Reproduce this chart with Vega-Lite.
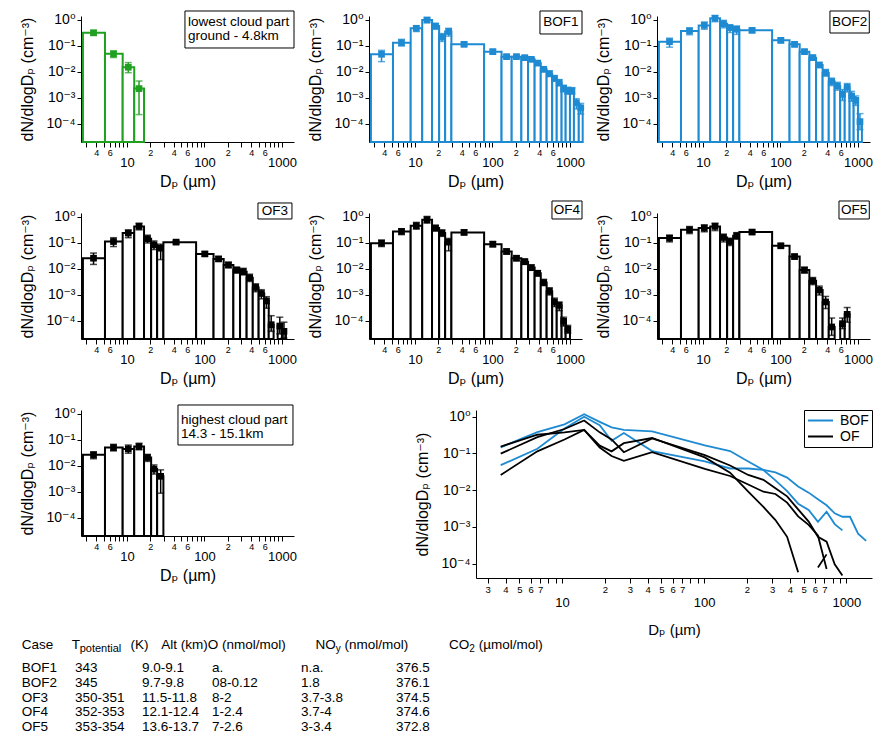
{
  "$schema": "https://vega.github.io/schema/vega-lite/v6.json",
  "background": "white",
  "padding": {"left": 19, "top": 10, "right": 0, "bottom": 2},
  "config": {
    "font": "Liberation Sans, DejaVu Sans",
    "view": {"stroke": null},
    "axis": {"grid": false, "domainColor": "black", "tickColor": "black", "labelColor": "black", "titleColor": "black", "titleFontWeight": "normal", "titleFontSize": 16, "labelOverlap": false, "labelFlush": false, "domainWidth": 1, "tickWidth": 1},
    "axisX": {"tickSize": 5, "labelPadding": 1, "labelBaseline": "top"},
    "axisY": {"tickSize": 4, "labelPadding": 2, "labelFontSize": 14, "titlePadding": 11},
    "text": {"color": "black"}
  },
  "datasets": {
    "edges": [
      {"bin": 1, "x0": 2.7, "x1": 5.2, "center": 3.7},
      {"bin": 2, "x0": 5.2, "x1": 8.8, "center": 6.7},
      {"bin": 3, "x0": 8.8, "x1": 12.4, "center": 10.4},
      {"bin": 4, "x0": 12.4, "x1": 16.6, "center": 14.3},
      {"bin": 5, "x0": 16.6, "x1": 20.5, "center": 18.4},
      {"bin": 6, "x0": 20.5, "x1": 24.5, "center": 22.3},
      {"bin": 7, "x0": 24.5, "x1": 29.5, "center": 27.2},
      {"bin": 8, "x0": 29.5, "x1": 78, "center": 43},
      {"bin": 9, "x0": 78, "x1": 131, "center": 101},
      {"bin": 10, "x0": 131, "x1": 177, "center": 152},
      {"bin": 11, "x0": 177, "x1": 236, "center": 204},
      {"bin": 12, "x0": 236, "x1": 288, "center": 261},
      {"bin": 13, "x0": 288, "x1": 350, "center": 317},
      {"bin": 14, "x0": 350, "x1": 420, "center": 383},
      {"bin": 15, "x0": 420, "x1": 500, "center": 458},
      {"bin": 16, "x0": 500, "x1": 590, "center": 543},
      {"bin": 17, "x0": 590, "x1": 675, "center": 631},
      {"bin": 18, "x0": 675, "x1": 780, "center": 726},
      {"bin": 19, "x0": 780, "x1": 880, "center": 828},
      {"bin": 20, "x0": 880, "x1": 1000, "center": 938},
      {"bin": 21, "x0": 1000, "x1": 1125, "center": 1061},
      {"bin": 22, "x0": 1125, "x1": 1300, "center": 1209},
      {"bin": 23, "x0": 1300, "x1": 1460, "center": 1378}
    ],
    "cases": [
      {"case": "BOF1", "type": "BOF"},
      {"case": "BOF2", "type": "BOF"},
      {"case": "OF3", "type": "OF"},
      {"case": "OF4", "type": "OF"},
      {"case": "OF5", "type": "OF"}
    ],
    "bins": [
      {"case": "lowest", "bin": 1, "value": 0.32, "lo": 0.265, "hi": 0.4},
      {"case": "lowest", "bin": 2, "value": 0.05, "lo": 0.036, "hi": 0.064},
      {"case": "lowest", "bin": 3, "value": 0.0152, "lo": 0.0094, "hi": 0.023},
      {"case": "lowest", "bin": 4, "value": 0.0023, "lo": 0.00023, "hi": 0.0045},

      {"case": "highest", "bin": 1, "value": 0.0268, "lo": 0.019, "hi": 0.035},
      {"case": "highest", "bin": 2, "value": 0.051, "lo": 0.038, "hi": 0.068},
      {"case": "highest", "bin": 3, "value": 0.0455, "lo": 0.031, "hi": 0.064},
      {"case": "highest", "bin": 4, "value": 0.056, "lo": 0.042, "hi": 0.075},
      {"case": "highest", "bin": 5, "value": 0.0212, "lo": 0.015, "hi": 0.028},
      {"case": "highest", "bin": 6, "value": 0.0076, "lo": 0.0049, "hi": 0.011},
      {"case": "highest", "bin": 7, "value": 0.004, "lo": 0.0009, "hi": 0.0071},

      {"case": "BOF1", "bin": 1, "value": 0.048, "lo": 0.025, "hi": 0.068},
      {"case": "BOF1", "bin": 2, "value": 0.134, "lo": 0.1, "hi": 0.18},
      {"case": "BOF1", "bin": 3, "value": 0.48, "lo": 0.36, "hi": 0.59},
      {"case": "BOF1", "bin": 4, "value": 1.0, "lo": 0.79, "hi": 1.23},
      {"case": "BOF1", "bin": 5, "value": 0.59, "lo": 0.44, "hi": 0.72},
      {"case": "BOF1", "bin": 6, "value": 0.22, "lo": 0.15, "hi": 0.3},
      {"case": "BOF1", "bin": 7, "value": 0.36, "lo": 0.24, "hi": 0.48},
      {"case": "BOF1", "bin": 8, "value": 0.116, "lo": 0.097, "hi": 0.14},
      {"case": "BOF1", "bin": 9, "value": 0.0605, "lo": 0.05, "hi": 0.074},
      {"case": "BOF1", "bin": 10, "value": 0.039, "lo": 0.034, "hi": 0.045},
      {"case": "BOF1", "bin": 11, "value": 0.039, "lo": 0.034, "hi": 0.045},
      {"case": "BOF1", "bin": 12, "value": 0.0356, "lo": 0.031, "hi": 0.041},
      {"case": "BOF1", "bin": 13, "value": 0.0307, "lo": 0.026, "hi": 0.036},
      {"case": "BOF1", "bin": 14, "value": 0.022, "lo": 0.018, "hi": 0.027},
      {"case": "BOF1", "bin": 15, "value": 0.0127, "lo": 0.0103, "hi": 0.0157},
      {"case": "BOF1", "bin": 16, "value": 0.0086, "lo": 0.0067, "hi": 0.011},
      {"case": "BOF1", "bin": 17, "value": 0.0057, "lo": 0.0044, "hi": 0.0073},
      {"case": "BOF1", "bin": 18, "value": 0.0039, "lo": 0.0029, "hi": 0.0051},
      {"case": "BOF1", "bin": 19, "value": 0.00235, "lo": 0.0017, "hi": 0.0031},
      {"case": "BOF1", "bin": 20, "value": 0.0019, "lo": 0.0014, "hi": 0.0026},
      {"case": "BOF1", "bin": 21, "value": 0.0019, "lo": 0.0014, "hi": 0.0025},
      {"case": "BOF1", "bin": 22, "value": 0.00066, "lo": 0.00038, "hi": 0.00094},
      {"case": "BOF1", "bin": 23, "value": 0.00042, "lo": 0.00024, "hi": 0.00062},

      {"case": "BOF2", "bin": 1, "value": 0.147, "lo": 0.09, "hi": 0.2},
      {"case": "BOF2", "bin": 2, "value": 0.38, "lo": 0.27, "hi": 0.5},
      {"case": "BOF2", "bin": 3, "value": 0.62, "lo": 0.44, "hi": 0.84},
      {"case": "BOF2", "bin": 4, "value": 1.16, "lo": 0.86, "hi": 1.5},
      {"case": "BOF2", "bin": 5, "value": 0.72, "lo": 0.5, "hi": 0.97},
      {"case": "BOF2", "bin": 6, "value": 0.51, "lo": 0.33, "hi": 0.64},
      {"case": "BOF2", "bin": 7, "value": 0.44, "lo": 0.28, "hi": 0.59},
      {"case": "BOF2", "bin": 8, "value": 0.4, "lo": 0.33, "hi": 0.48},
      {"case": "BOF2", "bin": 9, "value": 0.165, "lo": 0.134, "hi": 0.2},
      {"case": "BOF2", "bin": 10, "value": 0.116, "lo": 0.094, "hi": 0.14},
      {"case": "BOF2", "bin": 11, "value": 0.0605, "lo": 0.049, "hi": 0.074},
      {"case": "BOF2", "bin": 12, "value": 0.0356, "lo": 0.029, "hi": 0.044},
      {"case": "BOF2", "bin": 13, "value": 0.0186, "lo": 0.015, "hi": 0.023},
      {"case": "BOF2", "bin": 14, "value": 0.0094, "lo": 0.0069, "hi": 0.0125},
      {"case": "BOF2", "bin": 15, "value": 0.0043, "lo": 0.003, "hi": 0.0058},
      {"case": "BOF2", "bin": 16, "value": 0.0029, "lo": 0.002, "hi": 0.004},
      {"case": "BOF2", "bin": 17, "value": 0.00138, "lo": 0.0008, "hi": 0.0021},
      {"case": "BOF2", "bin": 18, "value": 0.0026, "lo": 0.0017, "hi": 0.0036},
      {"case": "BOF2", "bin": 19, "value": 0.0012, "lo": 0.00075, "hi": 0.0018},
      {"case": "BOF2", "bin": 20, "value": 0.00081, "lo": 0.00052, "hi": 0.0012},
      {"case": "BOF2", "bin": 21, "value": 0.000123, "lo": 0.00006, "hi": 0.00025},

      {"case": "OF3", "bin": 1, "value": 0.026, "lo": 0.015, "hi": 0.041},
      {"case": "OF3", "bin": 2, "value": 0.114, "lo": 0.073, "hi": 0.16},
      {"case": "OF3", "bin": 3, "value": 0.24, "lo": 0.16, "hi": 0.32},
      {"case": "OF3", "bin": 4, "value": 0.435, "lo": 0.32, "hi": 0.58},
      {"case": "OF3", "bin": 5, "value": 0.145, "lo": 0.1, "hi": 0.2},
      {"case": "OF3", "bin": 6, "value": 0.085, "lo": 0.056, "hi": 0.12},
      {"case": "OF3", "bin": 7, "value": 0.063, "lo": 0.023, "hi": 0.09},
      {"case": "OF3", "bin": 8, "value": 0.108, "lo": 0.092, "hi": 0.125},
      {"case": "OF3", "bin": 9, "value": 0.038, "lo": 0.031, "hi": 0.046},
      {"case": "OF3", "bin": 10, "value": 0.0244, "lo": 0.02, "hi": 0.03},
      {"case": "OF3", "bin": 11, "value": 0.0143, "lo": 0.0112, "hi": 0.0181},
      {"case": "OF3", "bin": 12, "value": 0.0091, "lo": 0.007, "hi": 0.0117},
      {"case": "OF3", "bin": 13, "value": 0.0079, "lo": 0.0059, "hi": 0.0106},
      {"case": "OF3", "bin": 14, "value": 0.0046, "lo": 0.0033, "hi": 0.0063},
      {"case": "OF3", "bin": 15, "value": 0.00195, "lo": 0.00133, "hi": 0.0027},
      {"case": "OF3", "bin": 16, "value": 0.00114, "lo": 0.00071, "hi": 0.0016},
      {"case": "OF3", "bin": 17, "value": 0.00059, "lo": 0.00031, "hi": 0.00086},
      {"case": "OF3", "bin": 18, "value": 0.000072, "lo": 0.00004, "hi": 0.00016},
      {"case": "OF3", "bin": 20, "value": 0.000064, "lo": 0.000032, "hi": 0.00014},
      {"case": "OF3", "bin": 21, "value": 0.00004, "lo": 0.000022, "hi": 0.00009},

      {"case": "OF4", "bin": 1, "value": 0.0986, "lo": 0.073, "hi": 0.13},
      {"case": "OF4", "bin": 2, "value": 0.279, "lo": 0.21, "hi": 0.35},
      {"case": "OF4", "bin": 3, "value": 0.462, "lo": 0.34, "hi": 0.62},
      {"case": "OF4", "bin": 4, "value": 0.79, "lo": 0.58, "hi": 1.05},
      {"case": "OF4", "bin": 5, "value": 0.375, "lo": 0.29, "hi": 0.48},
      {"case": "OF4", "bin": 6, "value": 0.24, "lo": 0.18, "hi": 0.32},
      {"case": "OF4", "bin": 7, "value": 0.108, "lo": 0.05, "hi": 0.15},
      {"case": "OF4", "bin": 8, "value": 0.255, "lo": 0.21, "hi": 0.32},
      {"case": "OF4", "bin": 9, "value": 0.09, "lo": 0.072, "hi": 0.113},
      {"case": "OF4", "bin": 10, "value": 0.047, "lo": 0.038, "hi": 0.059},
      {"case": "OF4", "bin": 11, "value": 0.026, "lo": 0.021, "hi": 0.032},
      {"case": "OF4", "bin": 12, "value": 0.0192, "lo": 0.015, "hi": 0.024},
      {"case": "OF4", "bin": 13, "value": 0.0113, "lo": 0.0089, "hi": 0.0143},
      {"case": "OF4", "bin": 14, "value": 0.0068, "lo": 0.0054, "hi": 0.0087},
      {"case": "OF4", "bin": 15, "value": 0.003, "lo": 0.0023, "hi": 0.004},
      {"case": "OF4", "bin": 16, "value": 0.0014, "lo": 0.001, "hi": 0.0019},
      {"case": "OF4", "bin": 17, "value": 0.00054, "lo": 0.00036, "hi": 0.00076},
      {"case": "OF4", "bin": 18, "value": 0.0004, "lo": 0.00025, "hi": 0.00054},
      {"case": "OF4", "bin": 19, "value": 0.000097, "lo": 0.000064, "hi": 0.00014},
      {"case": "OF4", "bin": 20, "value": 0.000048, "lo": 0.000034, "hi": 0.000068},

      {"case": "OF5", "bin": 1, "value": 0.154, "lo": 0.11, "hi": 0.2},
      {"case": "OF5", "bin": 2, "value": 0.323, "lo": 0.23, "hi": 0.43},
      {"case": "OF5", "bin": 3, "value": 0.375, "lo": 0.27, "hi": 0.5},
      {"case": "OF5", "bin": 4, "value": 0.435, "lo": 0.3, "hi": 0.58},
      {"case": "OF5", "bin": 5, "value": 0.163, "lo": 0.11, "hi": 0.22},
      {"case": "OF5", "bin": 6, "value": 0.114, "lo": 0.08, "hi": 0.153},
      {"case": "OF5", "bin": 7, "value": 0.19, "lo": 0.14, "hi": 0.25},
      {"case": "OF5", "bin": 8, "value": 0.263, "lo": 0.22, "hi": 0.32},
      {"case": "OF5", "bin": 9, "value": 0.078, "lo": 0.065, "hi": 0.095},
      {"case": "OF5", "bin": 10, "value": 0.03, "lo": 0.025, "hi": 0.037},
      {"case": "OF5", "bin": 11, "value": 0.0091, "lo": 0.007, "hi": 0.0117},
      {"case": "OF5", "bin": 12, "value": 0.0035, "lo": 0.0025, "hi": 0.0047},
      {"case": "OF5", "bin": 13, "value": 0.00154, "lo": 0.001, "hi": 0.0022},
      {"case": "OF5", "bin": 14, "value": 0.00054, "lo": 0.0003, "hi": 0.00088},
      {"case": "OF5", "bin": 15, "value": 0.000059, "lo": 0.000028, "hi": 0.00013},
      {"case": "OF5", "bin": 16, "value": null, "lo": null, "hi": null},
      {"case": "OF5", "bin": 17, "value": 0.000079, "lo": 0.000051, "hi": 0.00013},
      {"case": "OF5", "bin": 18, "value": 0.00018, "lo": 0.00009, "hi": 0.00033}
    ],
    "table": [
      {"Case": "BOF1", "T": "343", "Alt": "9.0-9.1", "O": "a.", "NOy": "n.a.", "CO2": "376.5"},
      {"Case": "BOF2", "T": "345", "Alt": "9.7-9.8", "O": "08-0.12", "NOy": "1.8", "CO2": "376.1"},
      {"Case": "OF3", "T": "350-351", "Alt": "11.5-11.8", "O": "8-2", "NOy": "3.7-3.8", "CO2": "374.5"},
      {"Case": "OF4", "T": "352-353", "Alt": "12.1-12.4", "O": "1-2.4", "NOy": "3.7-4", "CO2": "374.6"},
      {"Case": "OF5", "T": "353-354", "Alt": "13.6-13.7", "O": "7-2.6", "NOy": "3-3.4", "CO2": "372.8"}
    ]
  },
  "spacing": 17,
  "vconcat": [
    {
      "spacing": 10,
      "vconcat": [
        {
          "bounds": "flush",
          "spacing": 75,
          "hconcat": [
            {
              "width": 213, "height": 126,
              "layer": [
                {
                  "data": {"name": "bins"},
                  "transform": [
                    {"filter": "datum.case == 'lowest' && isValid(datum.value)"},
                    {"lookup": "bin", "from": {"data": {"name": "edges"}, "key": "bin", "fields": ["x0", "x1", "center"]}}
                  ],
                  "layer": [
                    {"mark": {"type": "rect", "fill": "white", "stroke": "#20a020", "strokeWidth": 2},
                     "encoding": {
                       "x": {"field": "x0", "type": "quantitative", "scale": {"type": "log", "domain": [2.55, 1430], "nice": false},
                             "axis": {"values": [3,4,5,6,7,8,9,10,20,30,40,50,60,70,80,90,100,200,300,400,500,600,700,800,900,1000],
                                      "labelExpr": "indexof([10,100,1000], datum.value) >= 0 ? ['', format(datum.value, 'd')] : indexof([4,6,20,40,60,200,400,600], datum.value) >= 0 ? slice(format(datum.value, 'd'), 0, 1) : ''",
                                      "labelFontSize": {"condition": {"test": "indexof([10,100,1000], datum.value) >= 0", "value": 13}, "value": 9},
                                      "labelLineHeight": 8.5, "title": "Dₚ (µm)", "titlePadding": 4}},
                       "x2": {"field": "x1"},
                       "y": {"field": "value", "type": "quantitative", "scale": {"type": "log", "domain": [2.03e-5, 1.425], "nice": false},
                             "axis": {"values": [1, 0.1, 0.01, 0.001, 0.0001],
                                      "labelExpr": "datum.value > 0.5 ? '10⁰' : datum.value > 0.05 ? '10⁻¹' : datum.value > 0.005 ? '10⁻²' : datum.value > 0.0005 ? '10⁻³' : '10⁻⁴'",
                                      "title": "dN/dlogDₚ (cm⁻³)"}},
                       "y2": {"datum": 2.03e-5}
                     }},
                    {"mark": {"type": "errorbar", "ticks": {"size": 7}, "color": "#20a020", "thickness": 1.5},
                     "encoding": {
                       "x": {"field": "center", "type": "quantitative", "title": "Dₚ (µm)"},
                       "y": {"field": "lo", "type": "quantitative", "title": "dN/dlogDₚ (cm⁻³)"},
                       "y2": {"field": "hi"}
                     }},
                    {"mark": {"type": "point", "shape": "square", "filled": true, "size": 45, "color": "#20a020", "opacity": 1},
                     "encoding": {
                       "x": {"field": "center", "type": "quantitative", "title": "Dₚ (µm)"},
                       "y": {"field": "value", "type": "quantitative", "title": "dN/dlogDₚ (cm⁻³)"}
                     }}
                  ]
                },
                {
                  "data": {"values": [{}]},
                  "layer": [
                    {"mark": {"type": "rect", "fill": "white", "stroke": "black", "strokeWidth": 1},
                     "encoding": {"x": {"datum": 56, "type": "quantitative", "title": "Dₚ (µm)"}, "x2": {"datum": 1430},
                                  "y": {"datum": 2.22, "type": "quantitative", "title": "dN/dlogDₚ (cm⁻³)"}, "y2": {"datum": 0.0838}}},
                    {"mark": {"type": "text", "text": ["lowest cloud part", "ground - 4.8km"], "align": "left", "baseline": "top", "fontSize": 13.5, "lineHeight": 13.5},
                     "encoding": {"x": {"datum": 61.2, "type": "quantitative", "title": "Dₚ (µm)"}, "y": {"datum": 1.49, "type": "quantitative", "title": "dN/dlogDₚ (cm⁻³)"}}}
                  ]
                }
              ]
            },
            {
              "width": 213, "height": 126,
              "layer": [
                {
                  "data": {"name": "bins"},
                  "transform": [
                    {"filter": "datum.case == 'BOF1' && isValid(datum.value)"},
                    {"lookup": "bin", "from": {"data": {"name": "edges"}, "key": "bin", "fields": ["x0", "x1", "center"]}}
                  ],
                  "layer": [
                    {"mark": {"type": "rect", "fill": "white", "stroke": "#1e8ad2", "strokeWidth": 2},
                     "encoding": {
                       "x": {"field": "x0", "type": "quantitative", "scale": {"type": "log", "domain": [2.55, 1430], "nice": false},
                             "axis": {"values": [3,4,5,6,7,8,9,10,20,30,40,50,60,70,80,90,100,200,300,400,500,600,700,800,900,1000],
                                      "labelExpr": "indexof([10,100,1000], datum.value) >= 0 ? ['', format(datum.value, 'd')] : indexof([4,6,20,40,60,200,400,600], datum.value) >= 0 ? slice(format(datum.value, 'd'), 0, 1) : ''",
                                      "labelFontSize": {"condition": {"test": "indexof([10,100,1000], datum.value) >= 0", "value": 13}, "value": 9},
                                      "labelLineHeight": 8.5, "title": "Dₚ (µm)", "titlePadding": 4}},
                       "x2": {"field": "x1"},
                       "y": {"field": "value", "type": "quantitative", "scale": {"type": "log", "domain": [2.03e-5, 1.425], "nice": false},
                             "axis": {"values": [1, 0.1, 0.01, 0.001, 0.0001],
                                      "labelExpr": "datum.value > 0.5 ? '10⁰' : datum.value > 0.05 ? '10⁻¹' : datum.value > 0.005 ? '10⁻²' : datum.value > 0.0005 ? '10⁻³' : '10⁻⁴'",
                                      "title": "dN/dlogDₚ (cm⁻³)"}},
                       "y2": {"datum": 2.03e-5}
                     }},
                    {"mark": {"type": "errorbar", "ticks": {"size": 7}, "color": "#1e8ad2", "thickness": 1.5},
                     "encoding": {
                       "x": {"field": "center", "type": "quantitative", "title": "Dₚ (µm)"},
                       "y": {"field": "lo", "type": "quantitative", "title": "dN/dlogDₚ (cm⁻³)"},
                       "y2": {"field": "hi"}
                     }},
                    {"mark": {"type": "point", "shape": "square", "filled": true, "size": 45, "color": "#1e8ad2", "opacity": 1},
                     "encoding": {
                       "x": {"field": "center", "type": "quantitative", "title": "Dₚ (µm)"},
                       "y": {"field": "value", "type": "quantitative", "title": "dN/dlogDₚ (cm⁻³)"}
                     }}
                  ]
                },
                {
                  "data": {"values": [{}]},
                  "layer": [
                    {"mark": {"type": "rect", "fill": "white", "stroke": "black", "strokeWidth": 1},
                     "encoding": {"x": {"datum": 410, "type": "quantitative", "title": "Dₚ (µm)"}, "x2": {"datum": 1430},
                                  "y": {"datum": 2.22, "type": "quantitative", "title": "dN/dlogDₚ (cm⁻³)"}, "y2": {"datum": 0.29}}},
                    {"mark": {"type": "text", "text": "BOF1", "align": "center", "baseline": "middle", "fontSize": 13.5},
                     "encoding": {"x": {"datum": 766, "type": "quantitative", "title": "Dₚ (µm)"}, "y": {"datum": 0.802, "type": "quantitative", "title": "dN/dlogDₚ (cm⁻³)"}}}
                  ]
                }
              ]
            },
            {
              "width": 213, "height": 126,
              "layer": [
                {
                  "data": {"name": "bins"},
                  "transform": [
                    {"filter": "datum.case == 'BOF2' && isValid(datum.value)"},
                    {"lookup": "bin", "from": {"data": {"name": "edges"}, "key": "bin", "fields": ["x0", "x1", "center"]}}
                  ],
                  "layer": [
                    {"mark": {"type": "rect", "fill": "white", "stroke": "#1e8ad2", "strokeWidth": 2},
                     "encoding": {
                       "x": {"field": "x0", "type": "quantitative", "scale": {"type": "log", "domain": [2.55, 1430], "nice": false},
                             "axis": {"values": [3,4,5,6,7,8,9,10,20,30,40,50,60,70,80,90,100,200,300,400,500,600,700,800,900,1000],
                                      "labelExpr": "indexof([10,100,1000], datum.value) >= 0 ? ['', format(datum.value, 'd')] : indexof([4,6,20,40,60,200,400,600], datum.value) >= 0 ? slice(format(datum.value, 'd'), 0, 1) : ''",
                                      "labelFontSize": {"condition": {"test": "indexof([10,100,1000], datum.value) >= 0", "value": 13}, "value": 9},
                                      "labelLineHeight": 8.5, "title": "Dₚ (µm)", "titlePadding": 4}},
                       "x2": {"field": "x1"},
                       "y": {"field": "value", "type": "quantitative", "scale": {"type": "log", "domain": [2.03e-5, 1.425], "nice": false},
                             "axis": {"values": [1, 0.1, 0.01, 0.001, 0.0001],
                                      "labelExpr": "datum.value > 0.5 ? '10⁰' : datum.value > 0.05 ? '10⁻¹' : datum.value > 0.005 ? '10⁻²' : datum.value > 0.0005 ? '10⁻³' : '10⁻⁴'",
                                      "title": "dN/dlogDₚ (cm⁻³)"}},
                       "y2": {"datum": 2.03e-5}
                     }},
                    {"mark": {"type": "errorbar", "ticks": {"size": 7}, "color": "#1e8ad2", "thickness": 1.5},
                     "encoding": {
                       "x": {"field": "center", "type": "quantitative", "title": "Dₚ (µm)"},
                       "y": {"field": "lo", "type": "quantitative", "title": "dN/dlogDₚ (cm⁻³)"},
                       "y2": {"field": "hi"}
                     }},
                    {"mark": {"type": "point", "shape": "square", "filled": true, "size": 45, "color": "#1e8ad2", "opacity": 1},
                     "encoding": {
                       "x": {"field": "center", "type": "quantitative", "title": "Dₚ (µm)"},
                       "y": {"field": "value", "type": "quantitative", "title": "dN/dlogDₚ (cm⁻³)"}
                     }}
                  ]
                },
                {
                  "data": {"values": [{}]},
                  "layer": [
                    {"mark": {"type": "rect", "fill": "white", "stroke": "black", "strokeWidth": 1},
                     "encoding": {"x": {"datum": 435, "type": "quantitative", "title": "Dₚ (µm)"}, "x2": {"datum": 1400},
                                  "y": {"datum": 2.22, "type": "quantitative", "title": "dN/dlogDₚ (cm⁻³)"}, "y2": {"datum": 0.316}}},
                    {"mark": {"type": "text", "text": "BOF2", "align": "center", "baseline": "middle", "fontSize": 13.5},
                     "encoding": {"x": {"datum": 780, "type": "quantitative", "title": "Dₚ (µm)"}, "y": {"datum": 0.838, "type": "quantitative", "title": "dN/dlogDₚ (cm⁻³)"}}}
                  ]
                }
              ]
            }
          ]
        },
        {
          "bounds": "flush",
          "spacing": 75,
          "hconcat": [
            {
              "width": 213, "height": 126,
              "layer": [
                {
                  "data": {"name": "bins"},
                  "transform": [
                    {"filter": "datum.case == 'OF3' && isValid(datum.value)"},
                    {"lookup": "bin", "from": {"data": {"name": "edges"}, "key": "bin", "fields": ["x0", "x1", "center"]}}
                  ],
                  "layer": [
                    {"mark": {"type": "rect", "fill": "white", "stroke": "black", "strokeWidth": 2},
                     "encoding": {
                       "x": {"field": "x0", "type": "quantitative", "scale": {"type": "log", "domain": [2.55, 1430], "nice": false},
                             "axis": {"values": [3,4,5,6,7,8,9,10,20,30,40,50,60,70,80,90,100,200,300,400,500,600,700,800,900,1000],
                                      "labelExpr": "indexof([10,100,1000], datum.value) >= 0 ? ['', format(datum.value, 'd')] : indexof([4,6,20,40,60,200,400,600], datum.value) >= 0 ? slice(format(datum.value, 'd'), 0, 1) : ''",
                                      "labelFontSize": {"condition": {"test": "indexof([10,100,1000], datum.value) >= 0", "value": 13}, "value": 9},
                                      "labelLineHeight": 8.5, "title": "Dₚ (µm)", "titlePadding": 4}},
                       "x2": {"field": "x1"},
                       "y": {"field": "value", "type": "quantitative", "scale": {"type": "log", "domain": [2.03e-5, 1.425], "nice": false},
                             "axis": {"values": [1, 0.1, 0.01, 0.001, 0.0001],
                                      "labelExpr": "datum.value > 0.5 ? '10⁰' : datum.value > 0.05 ? '10⁻¹' : datum.value > 0.005 ? '10⁻²' : datum.value > 0.0005 ? '10⁻³' : '10⁻⁴'",
                                      "title": "dN/dlogDₚ (cm⁻³)"}},
                       "y2": {"datum": 2.03e-5}
                     }},
                    {"mark": {"type": "errorbar", "ticks": {"size": 7}, "color": "black", "thickness": 1.5},
                     "encoding": {
                       "x": {"field": "center", "type": "quantitative", "title": "Dₚ (µm)"},
                       "y": {"field": "lo", "type": "quantitative", "title": "dN/dlogDₚ (cm⁻³)"},
                       "y2": {"field": "hi"}
                     }},
                    {"mark": {"type": "point", "shape": "square", "filled": true, "size": 45, "color": "black", "opacity": 1},
                     "encoding": {
                       "x": {"field": "center", "type": "quantitative", "title": "Dₚ (µm)"},
                       "y": {"field": "value", "type": "quantitative", "title": "dN/dlogDₚ (cm⁻³)"}
                     }}
                  ]
                },
                {
                  "data": {"values": [{}]},
                  "layer": [
                    {"mark": {"type": "rect", "fill": "white", "stroke": "black", "strokeWidth": 1},
                     "encoding": {"x": {"datum": 490, "type": "quantitative", "title": "Dₚ (µm)"}, "x2": {"datum": 1346},
                                  "y": {"datum": 3.46, "type": "quantitative", "title": "dN/dlogDₚ (cm⁻³)"}, "y2": {"datum": 0.838}}},
                    {"mark": {"type": "text", "text": "OF3", "align": "center", "baseline": "middle", "fontSize": 13.5},
                     "encoding": {"x": {"datum": 812, "type": "quantitative", "title": "Dₚ (µm)"}, "y": {"datum": 1.7, "type": "quantitative", "title": "dN/dlogDₚ (cm⁻³)"}}}
                  ]
                }
              ]
            },
            {
              "width": 213, "height": 126,
              "layer": [
                {
                  "data": {"name": "bins"},
                  "transform": [
                    {"filter": "datum.case == 'OF4' && isValid(datum.value)"},
                    {"lookup": "bin", "from": {"data": {"name": "edges"}, "key": "bin", "fields": ["x0", "x1", "center"]}}
                  ],
                  "layer": [
                    {"mark": {"type": "rect", "fill": "white", "stroke": "black", "strokeWidth": 2},
                     "encoding": {
                       "x": {"field": "x0", "type": "quantitative", "scale": {"type": "log", "domain": [2.55, 1430], "nice": false},
                             "axis": {"values": [3,4,5,6,7,8,9,10,20,30,40,50,60,70,80,90,100,200,300,400,500,600,700,800,900,1000],
                                      "labelExpr": "indexof([10,100,1000], datum.value) >= 0 ? ['', format(datum.value, 'd')] : indexof([4,6,20,40,60,200,400,600], datum.value) >= 0 ? slice(format(datum.value, 'd'), 0, 1) : ''",
                                      "labelFontSize": {"condition": {"test": "indexof([10,100,1000], datum.value) >= 0", "value": 13}, "value": 9},
                                      "labelLineHeight": 8.5, "title": "Dₚ (µm)", "titlePadding": 4}},
                       "x2": {"field": "x1"},
                       "y": {"field": "value", "type": "quantitative", "scale": {"type": "log", "domain": [2.03e-5, 1.425], "nice": false},
                             "axis": {"values": [1, 0.1, 0.01, 0.001, 0.0001],
                                      "labelExpr": "datum.value > 0.5 ? '10⁰' : datum.value > 0.05 ? '10⁻¹' : datum.value > 0.005 ? '10⁻²' : datum.value > 0.0005 ? '10⁻³' : '10⁻⁴'",
                                      "title": "dN/dlogDₚ (cm⁻³)"}},
                       "y2": {"datum": 2.03e-5}
                     }},
                    {"mark": {"type": "errorbar", "ticks": {"size": 7}, "color": "black", "thickness": 1.5},
                     "encoding": {
                       "x": {"field": "center", "type": "quantitative", "title": "Dₚ (µm)"},
                       "y": {"field": "lo", "type": "quantitative", "title": "dN/dlogDₚ (cm⁻³)"},
                       "y2": {"field": "hi"}
                     }},
                    {"mark": {"type": "point", "shape": "square", "filled": true, "size": 45, "color": "black", "opacity": 1},
                     "encoding": {
                       "x": {"field": "center", "type": "quantitative", "title": "Dₚ (µm)"},
                       "y": {"field": "value", "type": "quantitative", "title": "dN/dlogDₚ (cm⁻³)"}
                     }}
                  ]
                },
                {
                  "data": {"values": [{}]},
                  "layer": [
                    {"mark": {"type": "rect", "fill": "white", "stroke": "black", "strokeWidth": 1},
                     "encoding": {"x": {"datum": 586, "type": "quantitative", "title": "Dₚ (µm)"}, "x2": {"datum": 1430},
                                  "y": {"datum": 4.13, "type": "quantitative", "title": "dN/dlogDₚ (cm⁻³)"}, "y2": {"datum": 0.838}}},
                    {"mark": {"type": "text", "text": "OF4", "align": "center", "baseline": "middle", "fontSize": 13.5},
                     "encoding": {"x": {"datum": 915, "type": "quantitative", "title": "Dₚ (µm)"}, "y": {"datum": 1.86, "type": "quantitative", "title": "dN/dlogDₚ (cm⁻³)"}}}
                  ]
                }
              ]
            },
            {
              "width": 213, "height": 126,
              "layer": [
                {
                  "data": {"name": "bins"},
                  "transform": [
                    {"filter": "datum.case == 'OF5' && isValid(datum.value)"},
                    {"lookup": "bin", "from": {"data": {"name": "edges"}, "key": "bin", "fields": ["x0", "x1", "center"]}}
                  ],
                  "layer": [
                    {"mark": {"type": "rect", "fill": "white", "stroke": "black", "strokeWidth": 2},
                     "encoding": {
                       "x": {"field": "x0", "type": "quantitative", "scale": {"type": "log", "domain": [2.55, 1430], "nice": false},
                             "axis": {"values": [3,4,5,6,7,8,9,10,20,30,40,50,60,70,80,90,100,200,300,400,500,600,700,800,900,1000],
                                      "labelExpr": "indexof([10,100,1000], datum.value) >= 0 ? ['', format(datum.value, 'd')] : indexof([4,6,20,40,60,200,400,600], datum.value) >= 0 ? slice(format(datum.value, 'd'), 0, 1) : ''",
                                      "labelFontSize": {"condition": {"test": "indexof([10,100,1000], datum.value) >= 0", "value": 13}, "value": 9},
                                      "labelLineHeight": 8.5, "title": "Dₚ (µm)", "titlePadding": 4}},
                       "x2": {"field": "x1"},
                       "y": {"field": "value", "type": "quantitative", "scale": {"type": "log", "domain": [2.03e-5, 1.425], "nice": false},
                             "axis": {"values": [1, 0.1, 0.01, 0.001, 0.0001],
                                      "labelExpr": "datum.value > 0.5 ? '10⁰' : datum.value > 0.05 ? '10⁻¹' : datum.value > 0.005 ? '10⁻²' : datum.value > 0.0005 ? '10⁻³' : '10⁻⁴'",
                                      "title": "dN/dlogDₚ (cm⁻³)"}},
                       "y2": {"datum": 2.03e-5}
                     }},
                    {"mark": {"type": "errorbar", "ticks": {"size": 7}, "color": "black", "thickness": 1.5},
                     "encoding": {
                       "x": {"field": "center", "type": "quantitative", "title": "Dₚ (µm)"},
                       "y": {"field": "lo", "type": "quantitative", "title": "dN/dlogDₚ (cm⁻³)"},
                       "y2": {"field": "hi"}
                     }},
                    {"mark": {"type": "point", "shape": "square", "filled": true, "size": 45, "color": "black", "opacity": 1},
                     "encoding": {
                       "x": {"field": "center", "type": "quantitative", "title": "Dₚ (µm)"},
                       "y": {"field": "value", "type": "quantitative", "title": "dN/dlogDₚ (cm⁻³)"}
                     }}
                  ]
                },
                {
                  "data": {"values": [{}]},
                  "layer": [
                    {"mark": {"type": "rect", "fill": "white", "stroke": "black", "strokeWidth": 1},
                     "encoding": {"x": {"datum": 569, "type": "quantitative", "title": "Dₚ (µm)"}, "x2": {"datum": 1400},
                                  "y": {"datum": 4.13, "type": "quantitative", "title": "dN/dlogDₚ (cm⁻³)"}, "y2": {"datum": 0.838}}},
                    {"mark": {"type": "text", "text": "OF5", "align": "center", "baseline": "middle", "fontSize": 13.5},
                     "encoding": {"x": {"datum": 893, "type": "quantitative", "title": "Dₚ (µm)"}, "y": {"datum": 1.86, "type": "quantitative", "title": "dN/dlogDₚ (cm⁻³)"}}}
                  ]
                }
              ]
            }
          ]
        }
      ]
    },
    {
      "spacing": 0,
      "vconcat": [
        {
          "bounds": "flush",
          "spacing": 182,
          "resolve": {"legend": {"color": "independent"}},
          "hconcat": [
            {
              "width": 213, "height": 126,
              "layer": [
                {
                  "data": {"name": "bins"},
                  "transform": [
                    {"filter": "datum.case == 'highest' && isValid(datum.value)"},
                    {"lookup": "bin", "from": {"data": {"name": "edges"}, "key": "bin", "fields": ["x0", "x1", "center"]}}
                  ],
                  "layer": [
                    {"mark": {"type": "rect", "fill": "white", "stroke": "black", "strokeWidth": 2},
                     "encoding": {
                       "x": {"field": "x0", "type": "quantitative", "scale": {"type": "log", "domain": [2.55, 1430], "nice": false},
                             "axis": {"values": [3,4,5,6,7,8,9,10,20,30,40,50,60,70,80,90,100,200,300,400,500,600,700,800,900,1000],
                                      "labelExpr": "indexof([10,100,1000], datum.value) >= 0 ? ['', format(datum.value, 'd')] : indexof([4,6,20,40,60,200,400,600], datum.value) >= 0 ? slice(format(datum.value, 'd'), 0, 1) : ''",
                                      "labelFontSize": {"condition": {"test": "indexof([10,100,1000], datum.value) >= 0", "value": 13}, "value": 9},
                                      "labelLineHeight": 8.5, "title": "Dₚ (µm)", "titlePadding": 4}},
                       "x2": {"field": "x1"},
                       "y": {"field": "value", "type": "quantitative", "scale": {"type": "log", "domain": [2.03e-5, 1.425], "nice": false},
                             "axis": {"values": [1, 0.1, 0.01, 0.001, 0.0001],
                                      "labelExpr": "datum.value > 0.5 ? '10⁰' : datum.value > 0.05 ? '10⁻¹' : datum.value > 0.005 ? '10⁻²' : datum.value > 0.0005 ? '10⁻³' : '10⁻⁴'",
                                      "title": "dN/dlogDₚ (cm⁻³)"}},
                       "y2": {"datum": 2.03e-5}
                     }},
                    {"mark": {"type": "errorbar", "ticks": {"size": 7}, "color": "black", "thickness": 1.5},
                     "encoding": {
                       "x": {"field": "center", "type": "quantitative", "title": "Dₚ (µm)"},
                       "y": {"field": "lo", "type": "quantitative", "title": "dN/dlogDₚ (cm⁻³)"},
                       "y2": {"field": "hi"}
                     }},
                    {"mark": {"type": "point", "shape": "square", "filled": true, "size": 45, "color": "black", "opacity": 1},
                     "encoding": {
                       "x": {"field": "center", "type": "quantitative", "title": "Dₚ (µm)"},
                       "y": {"field": "value", "type": "quantitative", "title": "dN/dlogDₚ (cm⁻³)"}
                     }}
                  ]
                },
                {
                  "data": {"values": [{}]},
                  "layer": [
                    {"mark": {"type": "rect", "fill": "white", "stroke": "black", "strokeWidth": 1},
                     "encoding": {"x": {"datum": 45.5, "type": "quantitative", "title": "Dₚ (µm)"}, "x2": {"datum": 1387},
                                  "y": {"datum": 2.22, "type": "quantitative", "title": "dN/dlogDₚ (cm⁻³)"}, "y2": {"datum": 0.0643}}},
                    {"mark": {"type": "text", "text": ["highest cloud part", "14.3 - 15.1km"], "align": "left", "baseline": "top", "fontSize": 13.5, "lineHeight": 14},
                     "encoding": {"x": {"datum": 49.7, "type": "quantitative", "title": "Dₚ (µm)"}, "y": {"datum": 1.093, "type": "quantitative", "title": "dN/dlogDₚ (cm⁻³)"}}}
                  ]
                }
              ]
            },
            {
              "width": 396, "height": 168,
              "data": {"name": "bins"},
              "transform": [
                {"filter": "indexof(['BOF1','BOF2','OF3','OF4','OF5'], datum.case) >= 0 && !(datum.case == 'BOF2' && datum.bin == 21) && !(datum.case == 'OF3' && datum.bin > 19)"},
                {"lookup": "bin", "from": {"data": {"name": "edges"}, "key": "bin", "fields": ["x0", "x1", "center"]}},
                {"lookup": "case", "from": {"data": {"name": "cases"}, "key": "case", "fields": ["type"]}}
              ],
              "mark": {"type": "line", "strokeWidth": 1.8, "invalid": "break-paths-filter-domains"},
              "encoding": {
                "x": {"field": "center", "type": "quantitative", "scale": {"type": "log", "domain": [2.48, 1515], "nice": false},
                      "axis": {"values": [3,4,5,6,7,8,9,10,20,30,40,50,60,70,80,90,100,200,300,400,500,600,700,800,900,1000],
                               "labelExpr": "indexof([10,100,1000], datum.value) >= 0 ? ['', format(datum.value, 'd')] : indexof([8,9,80,90,800,900], datum.value) >= 0 ? '' : slice(format(datum.value, 'd'), 0, 1)",
                               "labelFontSize": {"condition": {"test": "indexof([10,100,1000], datum.value) >= 0", "value": 13}, "value": 9.5},
                               "labelLineHeight": 12.5, "title": "Dₚ (µm)", "titleFontSize": 15, "titlePadding": 13}},
                "y": {"field": "value", "type": "quantitative", "scale": {"type": "log", "domain": [4.1e-5, 1.52], "nice": false},
                      "axis": {"values": [1, 0.1, 0.01, 0.001, 0.0001],
                               "labelExpr": "datum.value > 0.5 ? '10⁰' : datum.value > 0.05 ? '10⁻¹' : datum.value > 0.005 ? '10⁻²' : datum.value > 0.0005 ? '10⁻³' : '10⁻⁴'",
                               "title": "dN/dlogDₚ (cm⁻³)"}},
                "color": {"field": "type", "type": "nominal", "scale": {"domain": ["BOF", "OF"], "range": ["#1e8ad2", "black"]},
                          "legend": {"title": null, "orient": "top-right", "offset": 0, "strokeColor": "black", "fillColor": "white", "padding": 3, "labelFontSize": 14, "labelColor": "black", "symbolType": "stroke", "symbolSize": 625, "symbolStrokeWidth": 2, "clipHeight": 15, "rowPadding": 1, "labelOffset": 6}},
                "detail": {"field": "case", "type": "nominal"}
              }
            }
          ]
        },
        {
          "spacing": 7,
          "vconcat": [
            {
              "width": 560, "height": 14,
              "data": {"values": [{}]},
              "layer": [
                {"mark": {"type": "text", "text": "Case", "align": "left", "baseline": "middle", "fontSize": 13.5},
                 "encoding": {"x": {"datum": 0, "type": "quantitative", "scale": {"domain": [0,1,2,3,4,5,6,7,8,9,10], "range": [-59.3, -9.3, -1.3, 49.5, 80.3, 234.5, 254.8, 263.6, 368, 388.3, 397.7], "zero": false, "nice": false}, "axis": null}}},
                {"mark": {"type": "text", "text": "T", "align": "left", "baseline": "middle", "fontSize": 13.5},
                 "encoding": {"x": {"datum": 1, "type": "quantitative", "axis": null}}},
                {"mark": {"type": "text", "text": "potential", "align": "left", "baseline": "middle", "fontSize": 11, "dy": 4},
                 "encoding": {"x": {"datum": 2, "type": "quantitative", "axis": null}}},
                {"mark": {"type": "text", "text": "(K)", "align": "left", "baseline": "middle", "fontSize": 13.5},
                 "encoding": {"x": {"datum": 3, "type": "quantitative", "axis": null}}},
                {"mark": {"type": "text", "text": "Alt (km)O (nmol/mol)", "align": "left", "baseline": "middle", "fontSize": 13.5},
                 "encoding": {"x": {"datum": 4, "type": "quantitative", "axis": null}}},
                {"mark": {"type": "text", "text": "NO", "align": "left", "baseline": "middle", "fontSize": 13.5},
                 "encoding": {"x": {"datum": 5, "type": "quantitative", "axis": null}}},
                {"mark": {"type": "text", "text": "y", "align": "left", "baseline": "middle", "fontSize": 10, "dy": 4},
                 "encoding": {"x": {"datum": 6, "type": "quantitative", "axis": null}}},
                {"mark": {"type": "text", "text": "(nmol/mol)", "align": "left", "baseline": "middle", "fontSize": 13.5},
                 "encoding": {"x": {"datum": 7, "type": "quantitative", "axis": null}}},
                {"mark": {"type": "text", "text": "CO", "align": "left", "baseline": "middle", "fontSize": 13.5},
                 "encoding": {"x": {"datum": 8, "type": "quantitative", "axis": null}}},
                {"mark": {"type": "text", "text": "2", "align": "left", "baseline": "middle", "fontSize": 10, "dy": 4},
                 "encoding": {"x": {"datum": 9, "type": "quantitative", "axis": null}}},
                {"mark": {"type": "text", "text": "(µmol/mol)", "align": "left", "baseline": "middle", "fontSize": 13.5},
                 "encoding": {"x": {"datum": 10, "type": "quantitative", "axis": null}}}
              ]
            },
            {
              "width": 560, "height": 59,
              "data": {"name": "table"},
              "encoding": {"y": {"field": "Case", "type": "nominal", "sort": null, "scale": {"type": "point", "padding": 0}, "axis": null}},
              "layer": [
                {"mark": {"type": "text", "align": "left", "baseline": "middle", "fontSize": 13.5},
                 "encoding": {"text": {"field": "Case"}, "x": {"datum": 0, "type": "quantitative", "scale": {"domain": [0,1,2,3,4,5], "range": [-59.3, -6, 61, 131, 220, 315], "zero": false, "nice": false}, "axis": null}}},
                {"mark": {"type": "text", "align": "left", "baseline": "middle", "fontSize": 13.5},
                 "encoding": {"text": {"field": "T"}, "x": {"datum": 1, "type": "quantitative", "axis": null}}},
                {"mark": {"type": "text", "align": "left", "baseline": "middle", "fontSize": 13.5},
                 "encoding": {"text": {"field": "Alt"}, "x": {"datum": 2, "type": "quantitative", "axis": null}}},
                {"mark": {"type": "text", "align": "left", "baseline": "middle", "fontSize": 13.5},
                 "encoding": {"text": {"field": "O"}, "x": {"datum": 3, "type": "quantitative", "axis": null}}},
                {"mark": {"type": "text", "align": "left", "baseline": "middle", "fontSize": 13.5},
                 "encoding": {"text": {"field": "NOy"}, "x": {"datum": 4, "type": "quantitative", "axis": null}}},
                {"mark": {"type": "text", "align": "left", "baseline": "middle", "fontSize": 13.5},
                 "encoding": {"text": {"field": "CO2"}, "x": {"datum": 5, "type": "quantitative", "axis": null}}}
              ]
            }
          ]
        }
      ]
    }
  ]
}
